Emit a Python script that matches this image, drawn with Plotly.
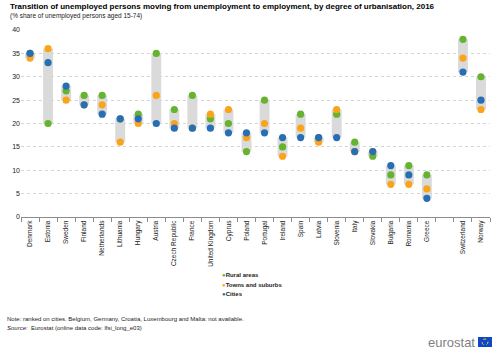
import plotly.graph_objects as go

countries = ["Denmark", "Estonia", "Sweden", "Finland", "Netherlands", "Lithuania", "Hungary",
             "Austria", "Czech Republic", "France", "United Kingdom", "Cyprus", "Poland",
             "Portugal", "Ireland", "Spain", "Latvia", "Slovenia", "Italy", "Slovakia",
             "Bulgaria", "Romania", "Greece", "Switzerland", "Norway"]
rural = [35, 20, 27, 26, 26, 21, 22, 35, 23, 26, 21, 20, 14, 25, 15, 22, 17, 22, 16, 13, 9, 11, 9, 38, 30]
towns = [34, 36, 25, 24, 24, 16, 20, 26, 20, 19, 22, 23, 17, 20, 13, 19, 16, 23, 14, 14, 7, 7, 6, 34, 23]
cities = [35, 33, 28, 24, 22, 21, 21, 20, 19, 19, 19, 18, 18, 18, 17, 17, 17, 17, 14, 14, 11, 9, 4, 31, 25]
y_ticks = [0, 5, 10, 15, 20, 25, 30, 35, 40]

GREEN = "#65b32e"
ORANGE = "#faa519"
BLUE = "#286eb4"
FONT = "Arial, Liberation Sans, sans-serif"

lows = [min(a, b, c) for a, b, c in zip(rural, towns, cities)]
spans = [max(a, b, c) - lo for a, b, c, lo in zip(rural, towns, cities, lows)]

# category order with an empty slot before the non-EU countries
cat_order = countries[:23] + [" "] + countries[23:]

fig = go.Figure()
fig.add_trace(go.Bar(x=countries, y=spans, base=lows, width=0.55,
                     marker=dict(color="#dadada", line=dict(width=0)),
                     showlegend=False, hoverinfo="skip"))
for name, vals, col in [("Rural areas", rural, GREEN),
                        ("Towns and suburbs", towns, ORANGE),
                        ("Cities", cities, BLUE)]:
    fig.add_trace(go.Scatter(x=countries, y=vals, mode="markers", name=name,
                             marker=dict(color=col, size=7.2, line=dict(width=0))))

W, H = 500, 356
L, R, T, B = 21, 10, 30, 139
pw, ph = W - L - R, H - T - B


def px(x):
    return (x - L) / pw


def py(y):
    return (H - B - y) / ph


ann = [
    dict(x=px(8), y=py(7), text="<b>Transition of unemployed persons moving from unemployment to employment, by degree of urbanisation, 2016</b>",
         font=dict(size=8, color="#000"), xanchor="left", yanchor="middle"),
    dict(x=px(8), y=py(16), text="(% share of unemployed persons aged 15-74)",
         font=dict(size=6.5, color="#222"), xanchor="left", yanchor="middle"),
    dict(x=px(5), y=py(318.5), text="Note: ranked on cities. Belgium, Germany, Croatia, Luxembourg and Malta: not available.",
         font=dict(size=6, color="#222"), xanchor="left", yanchor="middle"),
    dict(x=px(5), y=py(327.5), text="<i>Source:</i>  Eurostat (online data code: lfsi_long_e03)",
         font=dict(size=6, color="#222"), xanchor="left", yanchor="middle"),
    dict(x=px(477), y=py(342), text="eurostat",
         font=dict(size=13, color="#7f7f7f"), xanchor="right", yanchor="middle"),
]
for i, (name, col) in enumerate([("Rural areas", GREEN), ("Towns and suburbs", ORANGE), ("Cities", BLUE)]):
    ann.append(dict(x=px(220), y=py(275 + 9.5 * i),
                    text=f"<span style='color:{col}'>●</span><b>{name}</b>",
                    font=dict(size=6, color="#222"), xanchor="left", yanchor="middle"))
for a in ann:
    a.update(xref="paper", yref="paper", showarrow=False)

shapes = [
    dict(type="rect", xref="paper", yref="paper", x0=px(478), x1=px(492), y0=py(347), y1=py(337),
         fillcolor="#0e47cb", line=dict(width=0)),
    dict(type="circle", xref="paper", yref="paper", x0=px(482), x1=px(488), y0=py(345), y1=py(339),
         line=dict(color="#ffdd00", width=1, dash="dot")),
]

fig.update_layout(
    width=W, height=H,
    margin=dict(l=L, r=R, t=T, b=B),
    paper_bgcolor="white", plot_bgcolor="white",
    font=dict(family=FONT, color="#222"),
    showlegend=False,
    bargap=0.45,
    annotations=ann,
    shapes=shapes,
    xaxis=dict(type="category", categoryorder="array", categoryarray=cat_order,
               range=[-0.5, len(cat_order) - 0.5],
               tickangle=-90, tickfont=dict(size=6.5, color="#222"),
               showline=True, linecolor="#8c8c8c", linewidth=1,
               ticks="outside", tickson="boundaries", ticklen=4, tickcolor="#8c8c8c",
               showgrid=False, fixedrange=True),
    yaxis=dict(range=[0, 40], tickvals=y_ticks, tickfont=dict(size=7, color="#222"),
               showgrid=True, gridcolor="#d4d4d4", gridwidth=1, griddash="dot", zeroline=False,
               showline=False, ticks="", fixedrange=True),
)

fig.write_html("out.html", config={"displayModeBar": False},
               post_script="document.body.style.margin='0px';document.body.style.padding='0px';")
